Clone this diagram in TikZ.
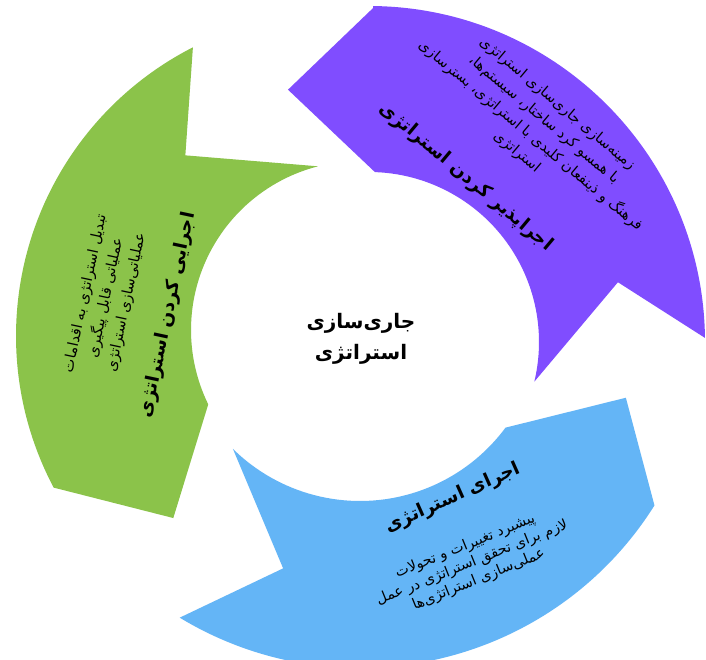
\documentclass[tikz,border=0pt]{standalone}
\usepackage{fontspec}
\newfontfamily\fa[Script=Arabic]{DejaVu Sans}
\TeXXeTstate=1
\usetikzlibrary{calc}
\newcommand{\RL}[1]{\beginR #1\endR}
\definecolor{arrpurple}{RGB}{128,77,255}
\definecolor{arrgreen}{RGB}{139,195,74}
\definecolor{arrblue}{RGB}{100,181,246}
\begin{document}
\begin{tikzpicture}[x=1pt,y=1pt,
  titletext/.style={font=\fa\bfseries\fontsize{18.5}{22}\selectfont, inner sep=0pt, text=black},
  bodytext/.style={font=\fa\fontsize{14.5}{21}\selectfont, align=center, inner sep=0pt, text=black},
  centertext/.style={font=\fa\bfseries\fontsize{20}{31}\selectfont, align=center, inner sep=0pt, text=black}]
\useasboundingbox (0,0) rectangle (706,-660);
\clip (0,0) rectangle (706,-660);
\fill[white] (0,0) rectangle (706,-660);
% centres of the arcs
\coordinate (Cp) at (369,-342);
\coordinate (Cg) at (360,-330);
\coordinate (Cgo) at (340,-336);
\coordinate (Cb) at (360,-320);
% purple arrow
\fill[arrpurple] ($(Cp)+(89.3:334pt)$) -- ($(Cp)+(107.8:265pt)$) -- ($(Cp)+(88:170pt)$)
  arc[start angle=88, end angle=-13.5, radius=170pt]
  -- ($(Cp)+(13.5:256pt)$) -- ($(Cp)+(0.7:336pt)$)
  arc[start angle=0.7, end angle=89.3, radius=336pt] -- cycle;
% green arrow
\fill[arrgreen] ($(Cgo)+(117:324pt)$) -- ($(Cg)+(135:247pt)$) -- ($(Cg)+(104.4:169pt)$)
  arc[start angle=104.4, end angle=206.1, radius=169pt]
  -- ($(Cg)+(225.2:265pt)$) -- ($(Cgo)+(207.9:324pt)$)
  arc[start angle=207.9, end angle=117, radius=324pt] -- cycle;
% blue arrow
\fill[arrblue] ($(Cb)+(238.8:348pt)$) -- ($(Cb)+(252.8:260pt)$) -- ($(Cb)+(225.4:181pt)$)
  arc[start angle=225.4, end angle=323.5, radius=181pt]
  -- ($(Cb)+(343.7:277pt)$) -- ($(Cb)+(327.8:348pt)$)
  arc[start angle=327.8, end angle=238.8, radius=348pt] -- cycle;
% texts
\node[centertext] (center) at (361,-339) {\RL{جاری‌سازی}\\\RL{استراتژی}};
\node[titletext, rotate=-40] (ptitle) at (466,-177) {\RL{اجراپذیر کردن استراتژی}};
\node[bodytext, rotate=-40] (pbody) at (537,-128) {\RL{زمینه‌سازی جاری‌سازی استراتژی}\\\RL{با همسو کرد ساختار، سیستم‌ها،}\\\RL{فرهنگ و ذینفعان کلیدی با استراتژی، بسترسازی}\\\RL{استراتژی}};
\node[titletext, rotate=78] (gtitle) at (168,-315) {\RL{اجرایی کردن استراتژی}};
\node[bodytext, rotate=78] (gbody) at (106,-298) {\RL{تبدیل استراتژی به اقدامات}\\\RL{عملیاتی قابل پیگیری}\\\RL{عملیاتی‌سازی استراتژی}};
\node[titletext, rotate=24] (btitle) at (453,-498) {\RL{اجرای استراتژی}};
\node[bodytext, rotate=22, font=\fa\fontsize{14.5}{18}\selectfont] (bbody) at (472,-563) {\RL{پیشبرد تغییرات و تحولات}\\\RL{لازم برای تحقق استراتژی در عمل}\\\RL{عملی‌سازی استراتژی‌ها}};
\end{tikzpicture}
\end{document}
